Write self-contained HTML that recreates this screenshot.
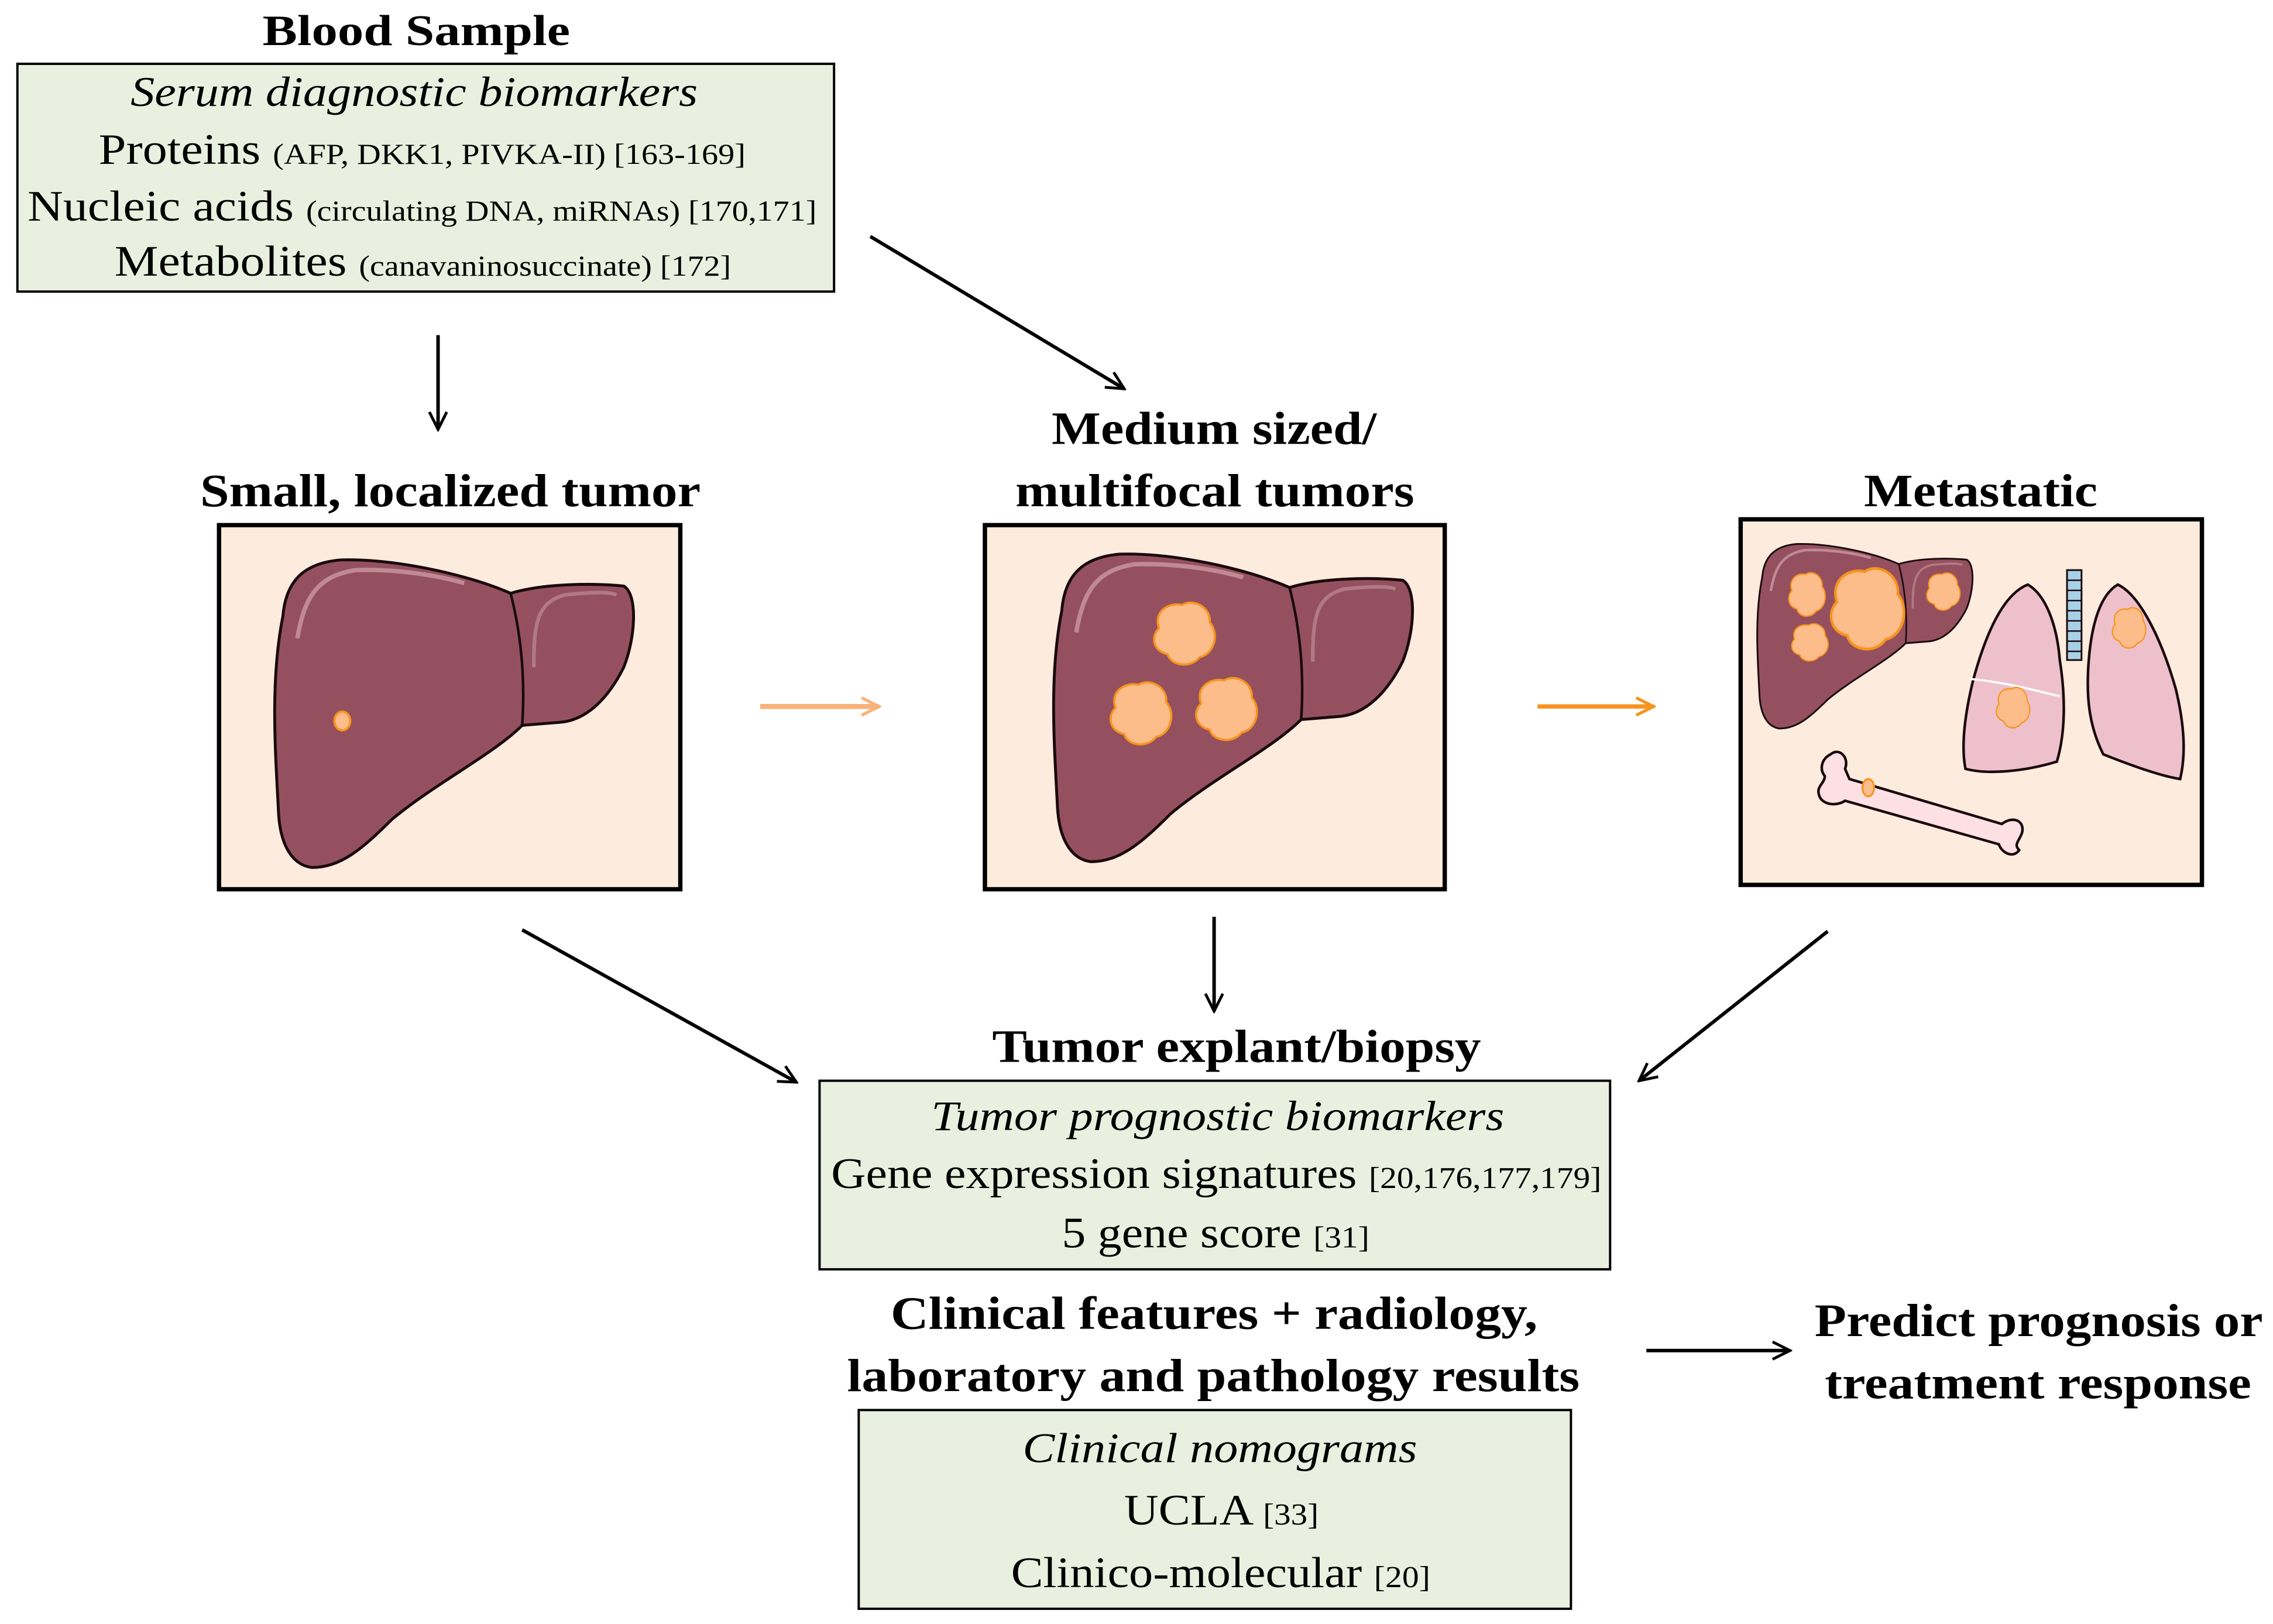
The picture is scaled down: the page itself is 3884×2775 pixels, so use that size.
<!DOCTYPE html>
<html><head><meta charset="utf-8">
<style>
html,body{margin:0;padding:0;background:#fff;}
svg{display:block;}
text{font-family:"Liberation Serif","DejaVu Serif",serif;fill:#000;}
.b{font-weight:bold;}
.i{font-style:italic;}
</style></head>
<body>
<svg width="3884" height="2775" viewBox="0 0 1567 1119.5" preserveAspectRatio="none" xmlns="http://www.w3.org/2000/svg">
<defs>
<marker id="ah" viewBox="0 0 20 20" refX="18" refY="10" markerWidth="15" markerHeight="15" markerUnits="userSpaceOnUse" orient="auto">
<path d="M2,2 L18,10 L2,18" fill="none" stroke="#000" stroke-width="2.6"/>
</marker>
<marker id="ahL" viewBox="0 0 20 20" refX="18" refY="10" markerWidth="15" markerHeight="15" markerUnits="userSpaceOnUse" orient="auto">
<path d="M2,2 L18,10 L2,18" fill="none" stroke="#f8b27a" stroke-width="2.8"/>
</marker>
<marker id="ahO" viewBox="0 0 20 20" refX="18" refY="10" markerWidth="15" markerHeight="15" markerUnits="userSpaceOnUse" orient="auto">
<path d="M2,2 L18,10 L2,18" fill="none" stroke="#f7931e" stroke-width="2.8"/>
</marker>
<g id="liver">
<path d="M195,425 C197,400 210,388 235,386 C270,385 320,395 352,409 C375,402 410,402 430,404 C440,410 438,440 430,460 C420,480 405,497 385,498 L360,500 C340,520 300,540 270,565 C250,585 235,598 215,598 C200,596 193,580 192,560 C190,520 186,470 195,425 Z" fill="#95505f" stroke="#1a0a0e" stroke-width="2"/>
<path d="M352,409 C360,440 362,470 360,500" fill="none" stroke="#1a0a0e" stroke-width="1.8"/>
<path d="M205,440 C210,410 220,397 245,393 C270,392 300,396 320,402" fill="none" stroke="#c08a95" stroke-width="3"/>
<path d="M368,460 C368,430 370,415 390,410 C410,408 420,408 425,410" fill="none" stroke="#b07a85" stroke-width="2.5"/>
</g>
<g id="blob">
<path d="M-18,-4 C-22,-15 -12,-22 -2,-20 C6,-25 18,-18 17,-8 C24,0 20,14 10,16 C4,24 -10,22 -12,14 C-22,12 -24,2 -18,-4 Z" fill="#fcbd8a" stroke="#f7931e" stroke-width="1.5"/>
</g>
</defs>

<text x="287" y="31" text-anchor="middle" class="b" font-size="30" textLength="212" lengthAdjust="spacingAndGlyphs">Blood Sample</text>
<rect x="12" y="44" width="563" height="157" fill="#e9f0df" stroke="#000" stroke-width="1.6"/>
<text x="90" y="73" class="i" font-size="29" textLength="391" lengthAdjust="spacingAndGlyphs">Serum diagnostic biomarkers</text>
<text x="68" y="113" font-size="30" textLength="446" lengthAdjust="spacingAndGlyphs">Proteins <tspan font-size="20">(AFP, DKK1, PIVKA-II) [163-169]</tspan></text>
<text x="19" y="152" font-size="30" textLength="544" lengthAdjust="spacingAndGlyphs">Nucleic acids <tspan font-size="20">(circulating DNA, miRNAs) [170,171]</tspan></text>
<text x="79" y="190" font-size="30" textLength="425" lengthAdjust="spacingAndGlyphs">Metabolites <tspan font-size="20">(canavaninosuccinate) [172]</tspan></text>

<line x1="302" y1="231" x2="302" y2="296" stroke="#000" stroke-width="2.4" marker-end="url(#ah)"/>
<line x1="600" y1="163" x2="775" y2="268" stroke="#000" stroke-width="2.4" marker-end="url(#ah)"/>

<text x="138" y="349" class="b" font-size="32" textLength="345" lengthAdjust="spacingAndGlyphs">Small, localized tumor</text>
<text x="725" y="306" class="b" font-size="32" textLength="224" lengthAdjust="spacingAndGlyphs">Medium sized/</text>
<text x="700" y="349" class="b" font-size="32" textLength="275" lengthAdjust="spacingAndGlyphs">multifocal tumors</text>
<text x="1285" y="349" class="b" font-size="32" textLength="161" lengthAdjust="spacingAndGlyphs">Metastatic</text>

<rect x="151" y="362" width="318" height="251" fill="#fdecdd" stroke="#000" stroke-width="3"/>
<rect x="679" y="362" width="317" height="251" fill="#fdecdd" stroke="#000" stroke-width="3"/>
<rect x="1200" y="358" width="318" height="252" fill="#fdecdd" stroke="#000" stroke-width="3"/>

<use href="#liver"/>
<ellipse cx="236" cy="497" rx="5.5" ry="6.5" fill="#fcbd8a" stroke="#f7931e" stroke-width="1.5"/>

<use href="#liver" transform="translate(537,-4)"/>
<use href="#blob" transform="translate(817,437)"/>
<use href="#blob" transform="translate(787,492)"/>
<use href="#blob" transform="translate(846,489)"/>

<g transform="translate(1213,375) scale(0.6,0.6) translate(-192,-386)">
<use href="#liver"/>
</g>
<use href="#blob" transform="translate(1288,420) scale(1.2,1.3)"/>
<use href="#blob" transform="translate(1246,410) scale(0.6,0.7)"/>
<use href="#blob" transform="translate(1248,443) scale(0.6,0.6)"/>
<use href="#blob" transform="translate(1340,408) scale(0.55,0.6)"/>
<rect x="1425" y="393" width="10" height="62" fill="#a8d0e6" stroke="#1a0a0e" stroke-width="1.2"/>
<path d="M1425,400 H1435 M1425,407 H1435 M1425,414 H1435 M1425,421 H1435 M1425,428 H1435 M1425,435 H1435 M1425,442 H1435 M1425,449 H1435" stroke="#1a0a0e" stroke-width="1"/>
<path d="M1420,455 C1418,430 1410,410 1398,403 C1380,410 1368,440 1360,470 C1354,495 1352,515 1355,530 C1370,534 1395,532 1418,525 C1424,505 1424,480 1420,455 Z" fill="#eec0cc" stroke="#1a0a0e" stroke-width="1.8"/>
<path d="M1440,455 C1442,430 1448,410 1460,403 C1475,410 1490,440 1500,475 C1506,500 1507,520 1503,537 C1490,535 1470,528 1450,520 C1440,500 1438,480 1440,455 Z" fill="#eec0cc" stroke="#1a0a0e" stroke-width="1.8"/>
<path d="M1358,468 C1380,470 1400,475 1420,480" fill="none" stroke="#fff" stroke-width="1.5"/>
<use href="#blob" transform="translate(1468,433) scale(0.55,0.65)"/>
<use href="#blob" transform="translate(1388,488) scale(0.55,0.65)"/>
<path d="M1262,520 C1268,515 1275,522 1272,530 L1275,537 L1380,568 C1388,562 1396,566 1394,574 C1392,580 1388,582 1392,586 C1388,592 1380,588 1378,582 L1272,552 C1266,556 1256,555 1254,548 C1252,542 1258,540 1258,535 C1254,530 1256,523 1262,520 Z" fill="#fce0e4" stroke="#1a0a0e" stroke-width="1.8"/>
<ellipse cx="1288" cy="543" rx="4" ry="6" fill="#fcbd8a" stroke="#f7931e" stroke-width="1.3"/>

<line x1="524" y1="487" x2="606" y2="487" stroke="#f8b27a" stroke-width="3.5" marker-end="url(#ahL)"/>
<line x1="1060" y1="487" x2="1140" y2="487" stroke="#f7931e" stroke-width="3" marker-end="url(#ahO)"/>

<line x1="360" y1="641" x2="549" y2="746" stroke="#000" stroke-width="2.4" marker-end="url(#ah)"/>
<line x1="837" y1="632" x2="837" y2="697" stroke="#000" stroke-width="2.4" marker-end="url(#ah)"/>
<line x1="1260" y1="642" x2="1130" y2="745" stroke="#000" stroke-width="2.4" marker-end="url(#ah)"/>

<text x="684" y="732" class="b" font-size="32" textLength="337" lengthAdjust="spacingAndGlyphs">Tumor explant/biopsy</text>
<rect x="565" y="745" width="545" height="130" fill="#e9f0df" stroke="#000" stroke-width="1.6"/>
<text x="642" y="779" class="i" font-size="29" textLength="395" lengthAdjust="spacingAndGlyphs">Tumor prognostic biomarkers</text>
<text x="573" y="819" font-size="30" textLength="531" lengthAdjust="spacingAndGlyphs">Gene expression signatures <tspan font-size="21">[20,176,177,179]</tspan></text>
<text x="732" y="860" font-size="30" textLength="212" lengthAdjust="spacingAndGlyphs">5 gene score <tspan font-size="21">[31]</tspan></text>

<text x="614" y="916" class="b" font-size="32" textLength="446" lengthAdjust="spacingAndGlyphs">Clinical features + radiology,</text>
<text x="584" y="959" class="b" font-size="32" textLength="505" lengthAdjust="spacingAndGlyphs">laboratory and pathology results</text>

<line x1="1135" y1="931" x2="1234" y2="931" stroke="#000" stroke-width="2.4" marker-end="url(#ah)"/>
<text x="1251" y="921" class="b" font-size="32" textLength="309" lengthAdjust="spacingAndGlyphs">Predict prognosis or</text>
<text x="1258" y="964" class="b" font-size="32" textLength="294" lengthAdjust="spacingAndGlyphs">treatment response</text>

<rect x="592" y="972" width="491" height="137" fill="#e9f0df" stroke="#000" stroke-width="1.6"/>
<text x="705" y="1008" class="i" font-size="29" textLength="272" lengthAdjust="spacingAndGlyphs">Clinical nomograms</text>
<text x="775" y="1051" font-size="30" textLength="134" lengthAdjust="spacingAndGlyphs">UCLA <tspan font-size="21">[33]</tspan></text>
<text x="697" y="1094" font-size="30" textLength="289" lengthAdjust="spacingAndGlyphs">Clinico-molecular <tspan font-size="21">[20]</tspan></text>
</svg>
</body></html>
